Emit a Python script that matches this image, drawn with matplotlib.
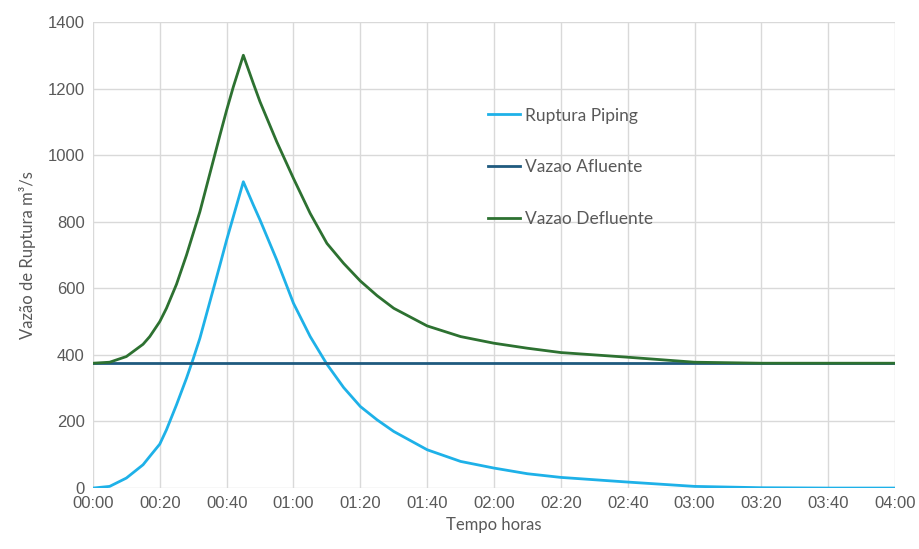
import matplotlib
matplotlib.use("Agg")
import matplotlib.pyplot as plt
from matplotlib.ticker import FuncFormatter, MultipleLocator

# tempo em minutos
tempo_min = [0, 5, 10, 15, 17, 20, 22, 25, 28, 30, 32, 35, 38, 40, 42, 45,
             48, 50, 55, 60, 65, 70, 75, 80, 85, 90, 100, 110, 120, 130, 140,
             150, 160, 180, 200, 220, 240]
ruptura_piping = [0, 5, 30, 70, 95, 132, 175, 250, 330, 388, 450, 560, 670, 745, 815, 920,
                  850, 805, 685, 555, 455, 372, 302, 245, 205, 170, 115, 80, 60, 43, 32,
                  25, 18, 5, 1, 0, 0]
vazao_afluente = [375] * len(tempo_min)
vazao_defluente = [375, 378, 395, 432, 455, 500, 540, 612, 700, 765, 830, 945, 1060, 1135, 1205, 1300,
                   1215, 1160, 1040, 930, 825, 735, 675, 622, 578, 540, 487, 455, 435, 420, 407,
                   400, 393, 378, 375, 375, 375]

grey = "#595959"

fig, ax = plt.subplots(figsize=(9.2, 5.49), dpi=100)
fig.subplots_adjust(left=0.101, right=0.973, bottom=0.111, top=0.96)

ax.plot(tempo_min, ruptura_piping, color="#1EB1E8", lw=2, label="Ruptura Piping")
ax.plot(tempo_min, vazao_afluente, color="#1F5A7E", lw=2, label="Vazao Afluente")
ax.plot(tempo_min, vazao_defluente, color="#2D7131", lw=2, label="Vazao Defluente")

ax.set_xlim(0, 240)
ax.set_ylim(0, 1400)
ax.xaxis.set_major_locator(MultipleLocator(20))
ax.yaxis.set_major_locator(MultipleLocator(200))
ax.xaxis.set_major_formatter(FuncFormatter(lambda v, p: f"{int(v) // 60:02d}:{int(v) % 60:02d}"))

ax.grid(True, color="#D9D9D9", lw=1)
ax.set_axisbelow(True)
for s in ax.spines.values():
    s.set_visible(False)
ax.tick_params(length=0, colors=grey, labelsize=12, pad=6)
for lab in ax.get_xticklabels() + ax.get_yticklabels():
    lab.set_family("Liberation Sans")

ax.set_xlabel("Tempo horas", color=grey, fontsize=12, family="Lato", labelpad=4)
ax.set_ylabel("Vazão de Ruptura m³/s", color=grey, fontsize=12, family="Lato", labelpad=8)

leg = ax.legend(loc="upper left", bbox_to_anchor=(0.473, 0.85), frameon=False,
                labelspacing=2.05, handlelength=1.85, handletextpad=0.3,
                prop={"family": "Lato", "size": 12.5})
for t in leg.get_texts():
    t.set_color(grey)

fig.savefig("out.png", dpi=100)
